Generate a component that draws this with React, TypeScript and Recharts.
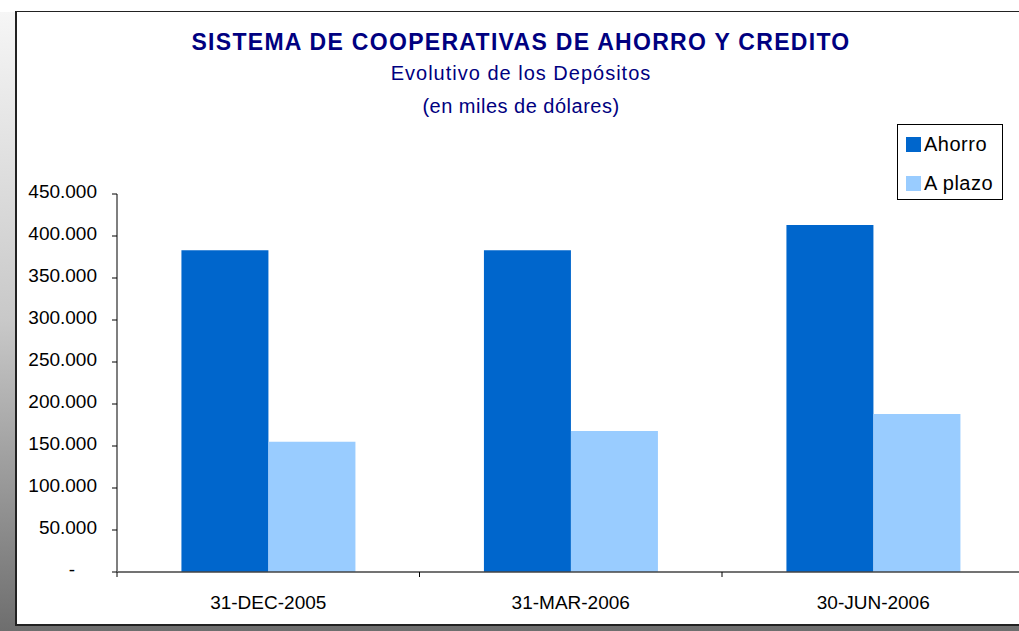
import { BarChart, Bar, XAxis, YAxis, Legend } from "recharts";

const categories = ["31-DEC-2005", "31-MAR-2006", "30-JUN-2006"];
const ahorro = [383000, 383000, 413000];
const aPlazo = [155000, 168000, 188000];
const yTicks = [0, 50000, 100000, 150000, 200000, 250000, 300000, 350000, 400000, 450000];

const data = categories.map((name, i) => ({
    name,
    ahorro: ahorro[i],
    aPlazo: aPlazo[i],
}));

const FONT = "'Liberation Sans', Arial, sans-serif";
const NAVY = "#000080";

// 450000 -> "450.000", cero se muestra como "-"
function formatMiles(v: number): string {
    return String(v).replace(/\B(?=(\d{3})+(?!\d))/g, ".");
}

function ValueTick({ x, y, payload }: any) {
    const v = payload.value as number;
    if (v === 0) {
        return (
            <text x={x - 22} y={y} dy={4} textAnchor="end" fontSize={19} fontFamily={FONT} fill="#000">
                -
            </text>
        );
    }
    return (
        <text x={x} y={y} dy={4} textAnchor="end" fontSize={19} fontFamily={FONT} fill="#000">
            {formatMiles(v)}
        </text>
    );
}

// etiqueta centrada + marca en el borde izquierdo de la categoría
function CategoryTick({ x, y, payload }: any) {
    const half = payload?.offset ?? 0;
    return (
        <g>
            <line x1={x - half} y1={y} x2={x - half} y2={y + 5} stroke="#000" />
            <text x={x} y={y + 37} textAnchor="middle" fontSize={19} fontFamily={FONT} fill="#000">
                {payload.value}
            </text>
        </g>
    );
}

function LegendBox() {
    const items = [
        { label: "Ahorro", color: "#0066CC" },
        { label: "A plazo", color: "#99CCFF" },
    ];
    return (
        <div
            style={{
                width: 104,
                height: 74,
                border: "1px solid #000",
                background: "#fff",
                fontFamily: FONT,
                fontSize: 20,
                color: "#000",
                boxSizing: "content-box",
            }}
        >
            {items.map((it) => (
                <div key={it.label} style={{ display: "flex", alignItems: "center", height: 39, paddingLeft: 8 }}>
                    <span style={{ width: 15, height: 15, background: it.color, marginRight: 3 }} />
                    <span style={{ letterSpacing: 0.5 }}>{it.label}</span>
                </div>
            ))}
        </div>
    );
}

export default function App() {
    return (
        <div
            style={{
                position: "fixed",
                left: 0,
                top: 0,
                width: 1019,
                height: 631,
                overflow: "hidden",
                background: "#fff",
                fontFamily: FONT,
            }}
        >
            {/* sombra */}
            <div
                style={{
                    position: "absolute",
                    left: 0,
                    top: 12,
                    width: 1040,
                    height: 619,
                    background: "linear-gradient(to bottom, #f6f6f6 0%, #c8c8c8 50%, #6e6e6e 100%)",
                }}
            />
            {/* marco */}
            <div
                style={{
                    position: "absolute",
                    left: 15,
                    top: 11,
                    width: 1020,
                    height: 612,
                    background: "#fff",
                    borderTop: "1px solid #222",
                    borderLeft: "2px solid #222",
                    borderBottom: "2px solid #222",
                }}
            />
            <div
                style={{
                    position: "absolute",
                    left: 17,
                    width: 1008,
                    top: 29,
                    textAlign: "center",
                    color: NAVY,
                    fontWeight: "bold",
                    fontSize: 23,
                    letterSpacing: 1.3,
                }}
            >
                SISTEMA DE COOPERATIVAS DE AHORRO Y CREDITO
            </div>
            <div
                style={{
                    position: "absolute",
                    left: 17,
                    width: 1008,
                    top: 62,
                    textAlign: "center",
                    color: NAVY,
                    fontSize: 20,
                    letterSpacing: 1,
                }}
            >
                Evolutivo de los Depósitos
            </div>
            <div
                style={{
                    position: "absolute",
                    left: 17,
                    width: 1008,
                    top: 95,
                    textAlign: "center",
                    color: NAVY,
                    fontSize: 20,
                    letterSpacing: 0.5,
                }}
            >
                (en miles de dólares)
            </div>
            <div style={{ position: "absolute", left: 0, top: 0 }}>
                <BarChart
                    width={1040}
                    height={631}
                    data={data}
                    margin={{ top: 194, right: 15.5, left: 17, bottom: 19 }}
                    barCategoryGap="21.3%"
                    barGap={0}
                >
                    <XAxis
                        dataKey="name"
                        height={40}
                        axisLine={{ stroke: "#444", strokeWidth: 1.5 }}
                        tickLine={false}
                        tickSize={0}
                        tickMargin={0}
                        tick={<CategoryTick />}
                        interval={0}
                    />
                    <YAxis
                        width={100}
                        domain={[0, 450000]}
                        ticks={yTicks}
                        interval={0}
                        axisLine={{ stroke: "#7f7f7f", strokeWidth: 2 }}
                        tickLine={{ stroke: "#000" }}
                        tickSize={5}
                        tickMargin={15}
                        tick={<ValueTick />}
                    />
                    <Legend
                        layout="vertical"
                        align="center"
                        verticalAlign="middle"
                        content={<LegendBox />}
                        wrapperStyle={{ left: 897, top: 124, width: 106, height: 76 }}
                    />
                    <Bar dataKey="ahorro" name="Ahorro" fill="#0066CC" isAnimationActive={false} />
                    <Bar dataKey="aPlazo" name="A plazo" fill="#99CCFF" isAnimationActive={false} />
                </BarChart>
            </div>
        </div>
    );
}
